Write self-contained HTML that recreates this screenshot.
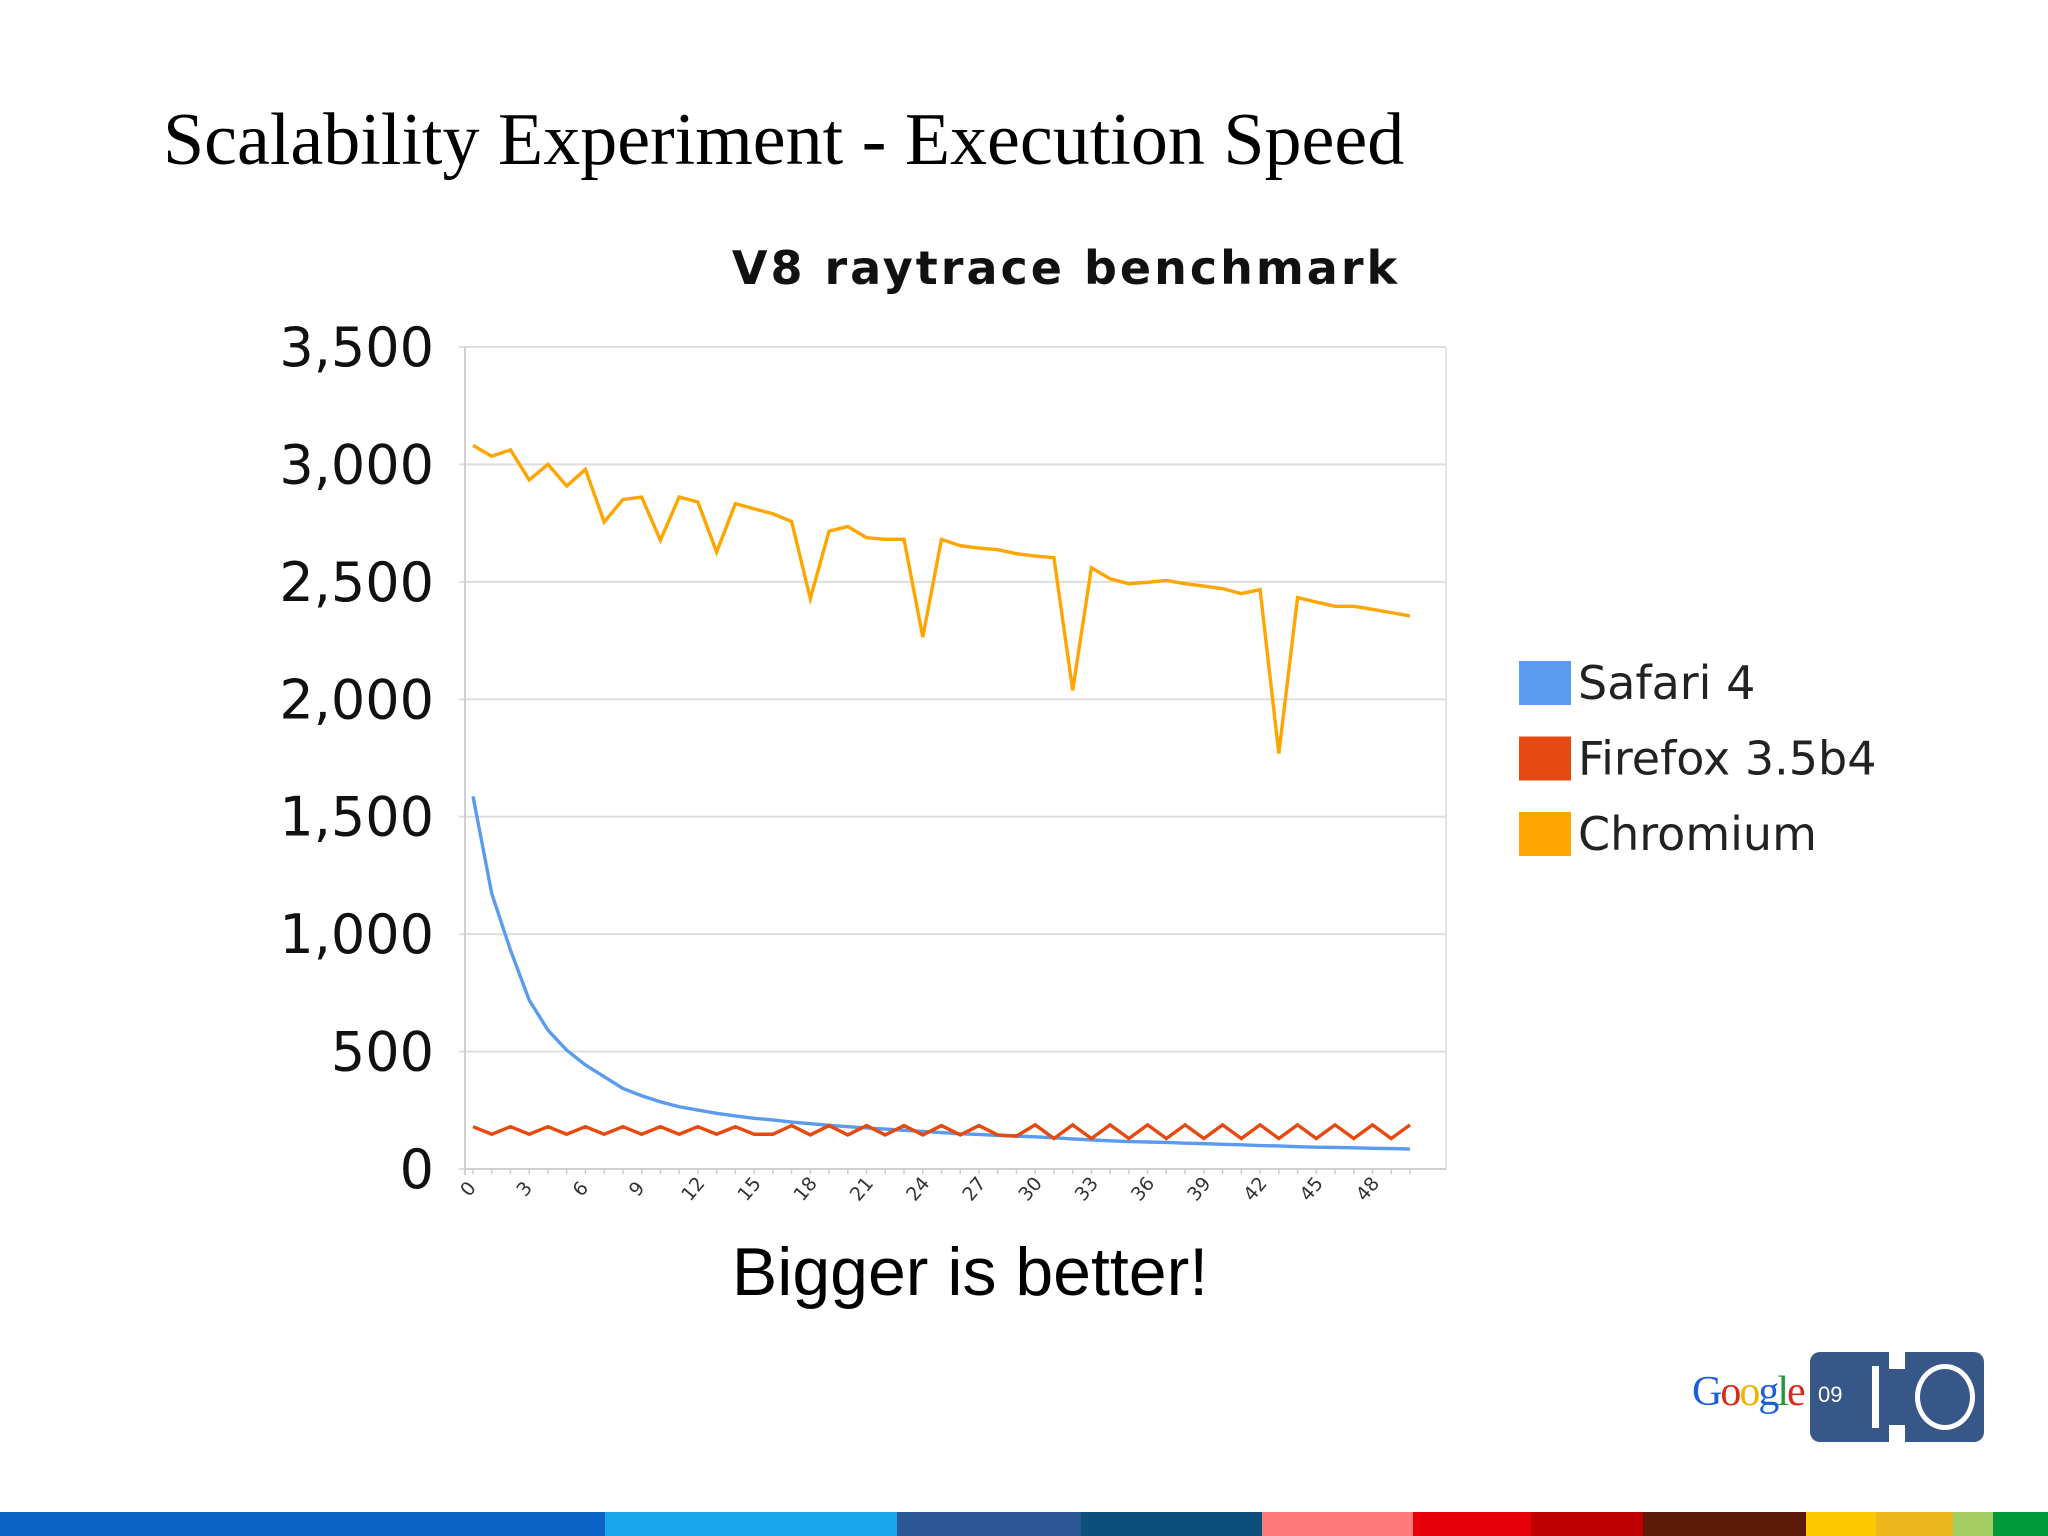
<!DOCTYPE html>
<html><head><meta charset="utf-8"><style>
html,body{margin:0;padding:0;background:#fff;}
body{width:2048px;height:1536px;position:relative;overflow:hidden;}
.abs{position:absolute;}
</style></head><body>
<div class="abs" style="left:163px;top:98px;font-family:'Liberation Serif',serif;font-size:74px;color:#000;white-space:nowrap;">Scalability Experiment - Execution Speed</div>
<svg class="abs" style="left:0;top:0" width="2048" height="1536" id="chart"></svg>
<div class="abs" style="left:0;width:1940px;text-align:center;top:1233px;font-family:'Liberation Sans',sans-serif;font-size:68px;color:#000;">Bigger is better!</div>
<div class="abs" style="left:1692px;top:1368px;font-family:'Liberation Serif',serif;font-size:42px;letter-spacing:-2px;"><span style="color:#1c5fd6">G</span><span style="color:#d62b1c">o</span><span style="color:#f0b400">o</span><span style="color:#1c5fd6">g</span><span style="color:#1e9a3a">l</span><span style="color:#d62b1c">e</span></div>
<div class="abs" style="left:1810px;top:1352px;width:174px;height:90px;">
<div class="abs" style="left:0;top:0;width:79px;height:90px;background:#375789;border-radius:10px 0 0 10px;"></div>
<div class="abs" style="left:79px;top:17px;width:16px;height:56px;background:#375789;"></div>
<div class="abs" style="left:95px;top:0;width:79px;height:90px;background:#375789;border-radius:0 10px 10px 0;"></div>
<div class="abs" style="left:8px;top:30px;color:#fff;font-family:'Liberation Sans',sans-serif;font-size:22px;">09</div>
<div class="abs" style="left:62px;top:14px;width:7px;height:62px;background:#fff;"></div>
<div class="abs" style="left:105px;top:12px;width:50px;height:56px;border:5px solid #fff;border-radius:50%;"></div>
</div>
<div class="abs" style="left:0;top:1512px;width:2048px;height:24px;display:flex;">
<div style="width:605px;background:#0a63c5"></div><div style="width:292px;background:#1aa6ec"></div><div style="width:184px;background:#2b5797"></div><div style="width:181px;background:#0b4f7a"></div><div style="width:151px;background:#ff7a7a"></div><div style="width:118px;background:#e8000b"></div><div style="width:112px;background:#c00000"></div><div style="width:163px;background:#5c1a08"></div><div style="width:70px;background:#fdc800"></div><div style="width:77px;background:#ecb61c"></div><div style="width:40px;background:#a3cd62"></div><div style="flex:1;background:#00993a"></div>
</div>
<script>
const categories = Array.from({length:51},(_,i)=>i);
const chromium = [3081,3035,3062,2934,3000,2908,2979,2755,2851,2861,2677,2861,2840,2627,2833,2811,2790,2757,2429,2716,2736,2688,2681,2681,2265,2681,2654,2644,2637,2620,2610,2603,2038,2560,2513,2492,2498,2506,2492,2482,2471,2450,2467,1769,2433,2414,2396,2396,2383,2369,2355];
const safari = [1587,1173,932,719,591,506,443,393,343,312,286,265,251,237,226,216,209,200,193,186,180,175,170,165,160,155,150,147,143,140,137,133,128,124,120,117,115,113,110,108,105,103,100,98,95,93,92,90,88,87,85];
const firefox = [180,148,180,148,180,148,180,148,180,148,180,148,180,148,180,148,148,185,145,185,145,185,145,185,145,185,145,185,145,140,188,130,188,130,188,130,188,130,188,130,188,130,188,130,188,130,188,130,188,130,188];
const yTicks = [0,500,1000,1500,2000,2500,3000,3500];
const yTickLabels = ["0","500","1,000","1,500","2,000","2,500","3,000","3,500"];
const xTickLabels = ["0","3","6","9","12","15","18","21","24","27","30","33","36","39","42","45","48"];
const seriesNames = ["Safari 4","Firefox 3.5b4","Chromium"];
const seriesColors = ["#5b9bef","#e64a10","#ffa500"];

const svg = document.getElementById('chart');
const NS = 'http://www.w3.org/2000/svg';
const L=465,R=1446,T=347,B=1169,YMAX=3500;
const x = i => 473 + i*18.74;
const y = v => B - v/YMAX*(B-T);
function mk(tag, attrs){const e=document.createElementNS(NS,tag);for(const k in attrs)e.setAttribute(k,attrs[k]);svg.appendChild(e);return e;}

const ct = mk('text',{x:1066,y:284,'text-anchor':'middle','font-family':'DejaVu Sans, sans-serif','font-weight':'bold','font-size':46,'letter-spacing':'3',fill:'#111'});
ct.textContent='V8 raytrace benchmark';



yTicks.forEach((v,k)=>{
  const g = mk('line',{x1:L-6,x2:R,y1:y(v),y2:y(v),stroke:'#dedede','stroke-width':2});
  
  
  const t = mk('text',{x:434,y:y(v)+19,'text-anchor':'end','font-family':'DejaVu Sans, sans-serif','font-size':54,fill:'#111'});
  t.textContent=yTickLabels[k];
  
  
});
const la = mk('line',{x1:L,x2:L,y1:T,y2:B+6,stroke:'#d0d0d0','stroke-width':2});


const ra = mk('line',{x1:R,x2:R,y1:T,y2:B,stroke:'#e4e4e4','stroke-width':2});


const ba = mk('line',{x1:L,x2:R,y1:B,y2:B,stroke:'#d0d0d0','stroke-width':2});


categories.forEach(i=>{
  const tk = mk('line',{x1:x(i),x2:x(i),y1:B,y2:B+5,stroke:'#ccc','stroke-width':1.5});
  
  
});
xTickLabels.forEach(s=>{
  const i=+s, px=x(i), py=B+24;
  const t = mk('text',{x:px,y:py,'text-anchor':'middle','font-family':'DejaVu Sans, sans-serif','font-size':19,fill:'#333',transform:`rotate(-50 ${px} ${py})`});
  t.textContent=s;
  
  
});
[safari,firefox,chromium].forEach((arr,k)=>{
  const p = mk('polyline',{points:arr.map((v,i)=>x(categories[i])+','+y(v)).join(' '),fill:'none',stroke:seriesColors[k],'stroke-width':3.4,'stroke-linejoin':'miter'});
  
  
});
seriesNames.forEach((n,k)=>{
  const cy = 683 + k*75.5;
  const r = mk('rect',{x:1519,y:cy-22,width:52,height:44,fill:seriesColors[k]});
  
  
  const t = mk('text',{x:1578,y:cy+16,'font-family':'DejaVu Sans, sans-serif','font-size':46,fill:'#222'});
  t.textContent=n;
  
  
});
</script>
</body></html>
